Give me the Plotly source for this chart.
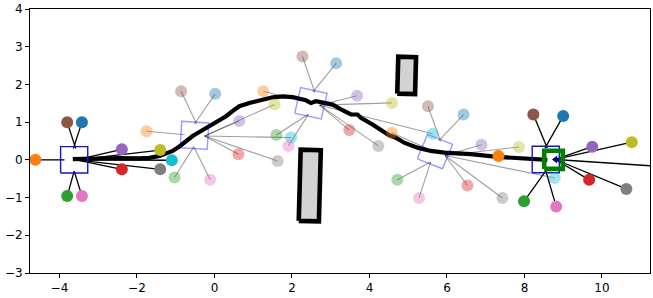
import math
import plotly.graph_objects as go

# ---------------- data ----------------
# robot poses (centre, heading in degrees); first and last drawn solid
pose_x = [-3.62, -0.515, 2.49, 5.69, 8.55]
pose_y = [0.0, 0.65, 1.50, 0.22, 0.01]
pose_deg = [0.0, -3.5, -12.5, -22.0, 0.0]
pose_solid = [True, False, False, False, True]

# landmark colours (tab10 order)
landmark_colors = ['#1f77b4', '#ff7f0e', '#2ca02c', '#d62728', '#9467bd',
                   '#8c564b', '#e377c2', '#7f7f7f', '#bcbd22', '#17becf']

# observed landmark positions per pose, in colour order
obs_x = [
    [-3.42, -4.62, -3.80, -2.39, -2.39, -3.80, -3.42, -1.40, -1.40, -1.10],
    [0.02, -1.75, -1.03, 0.62, 0.64, -0.86, -0.11, 1.63, 1.55, 1.98],
    [3.14, 1.26, 1.60, 3.48, 3.68, 2.27, 1.91, 4.23, 4.58, 5.63],
    [6.43, 4.58, 4.72, 6.53, 6.89, 5.51, 5.28, 7.43, 7.86, 8.78],
    [9.00, 7.33, 7.99, 9.67, 9.75, 8.23, 8.82, 10.63, 10.77, 11.60],
]
obs_y = [
    [1.00, 0.00, -0.96, -0.25, 0.28, 1.00, -0.96, -0.25, 0.26, -0.01],
    [1.75, 0.76, -0.47, 0.15, 1.03, 1.82, -0.53, -0.03, 1.47, 0.59],
    [2.56, 1.82, 0.66, 0.79, 1.70, 2.74, 0.37, 0.37, 1.51, 0.69],
    [1.20, 0.72, -0.53, -0.68, 0.40, 1.42, -1.01, -1.01, 0.34, -0.48],
    [1.16, 0.10, -1.10, -0.53, 0.35, 1.20, -1.24, -0.77, 0.47, -0.18],
]

# travelled path
path_x = [-3.655, -2.967, -2.451, -1.936, -1.678, -1.420, -1.240, -1.078, -0.905,
          -0.732, -0.562, -0.389, -0.217, -0.046, 0.126, 0.299, 0.461, 0.642,
          0.900, 1.158, 1.500, 1.758, 2.016, 2.361, 2.490, 2.619, 2.789, 3.047,
          3.305, 3.522, 3.692, 3.779, 4.078, 4.336, 4.509, 4.682, 4.896, 5.239,
          5.584, 5.927, 6.615, 7.301, 7.904, 8.332, 8.590]
path_y = [0.018, 0.045, 0.045, 0.039, 0.053, 0.105, 0.171, 0.237, 0.355,
          0.500, 0.632, 0.737, 0.842, 0.939, 1.053, 1.158, 1.289, 1.421,
          1.508, 1.571, 1.658, 1.684, 1.666, 1.579, 1.508, 1.553, 1.526, 1.466,
          1.316, 1.203, 1.203, 1.113, 0.939, 0.763, 0.650, 0.587, 0.455, 0.324,
          0.237, 0.192, 0.150, 0.079, 0.045, 0.000, 0.000]

# rectangular obstacles
obst_cx = [2.46, 4.96]
obst_cy = [-0.68, 2.24]
obst_w = [0.52, 0.46]
obst_h = [1.89, 0.98]
obst_deg = [-1.5, -1.5]

# goal
goal_x = [8.75]
goal_y = [0.0]

x_ticks = [-4, -2, 0, 2, 4, 6, 8, 10]
y_ticks = [-3, -2, -1, 0, 1, 2, 3, 4]

# ---------------- geometry helpers ----------------
BOX_HALF = 0.35
GOAL_HALF = 0.24
front_offset = [0.05, 0.26, 0.23, 0.28, 0.25]
# local anchor for each colour index; None = front anchor
anchor_local = [(-0.02, 0.3), (-0.25, 0.0), (0.0, -0.3), None, None,
                (0.04, 0.3), (0.0, -0.3), None, None, None]


def to_world(cx, cy, deg, lx, ly):
    th = math.radians(deg)
    c, s = math.cos(th), math.sin(th)
    return cx + c * lx - s * ly, cy + s * lx + c * ly


def rect(cx, cy, deg, hw, hh):
    xs, ys = [], []
    for lx, ly in [(-hw, -hh), (hw, -hh), (hw, hh), (-hw, hh), (-hw, -hh)]:
        X, Y = to_world(cx, cy, deg, lx, ly)
        xs.append(X)
        ys.append(Y)
    return xs, ys


fig = go.Figure()

# observation lines
for i in range(len(pose_x)):
    lx, ly = [], []
    for k in range(len(landmark_colors)):
        a = anchor_local[k] if anchor_local[k] is not None else (front_offset[i], 0.0)
        ax, ay = to_world(pose_x[i], pose_y[i], pose_deg[i], a[0], a[1])
        lx += [ax, obs_x[i][k], None]
        ly += [ay, obs_y[i][k], None]
    fig.add_trace(go.Scatter(
        x=lx, y=ly, mode='lines', hoverinfo='skip',
        line=dict(color='black' if pose_solid[i] else 'rgba(0,0,0,0.38)',
                  width=1.3 if pose_solid[i] else 1.1)))

# path
fig.add_trace(go.Scatter(x=path_x, y=path_y, mode='lines',
                         line=dict(color='black', width=4.2)))

# pose boxes
for i in range(len(pose_x)):
    bx, by = rect(pose_x[i], pose_y[i], pose_deg[i], BOX_HALF, BOX_HALF)
    fig.add_trace(go.Scatter(
        x=bx, y=by, mode='lines',
        line=dict(color='rgb(20,20,200)' if pose_solid[i] else 'rgba(0,0,255,0.4)',
                  width=1.4)))

# landmark dots (faded first, solid on top)
order = [1, 2, 3, 0, 4]
for i in order:
    fig.add_trace(go.Scatter(
        x=obs_x[i], y=obs_y[i], mode='markers',
        opacity=1.0 if pose_solid[i] else 0.4,
        marker=dict(size=12, color=landmark_colors, line=dict(width=0))))

# obstacles
for j in range(len(obst_cx)):
    ox, oy = rect(obst_cx[j], obst_cy[j], obst_deg[j], obst_w[j] / 2, obst_h[j] / 2)
    fig.add_trace(go.Scatter(x=ox, y=oy, mode='lines', fill='toself',
                             fillcolor='#d3d3d3',
                             line=dict(color='black', width=4.6)))

# goal square
gx, gy = rect(goal_x[0], goal_y[0], 0.0, GOAL_HALF, GOAL_HALF)
fig.add_trace(go.Scatter(x=gx, y=gy, mode='lines',
                         line=dict(color='green', width=4.6)))

# heading arrowhead of final pose
hx, hy = to_world(pose_x[-1], pose_y[-1], pose_deg[-1], front_offset[-1], 0.0)
fig.add_trace(go.Scatter(x=[hx], y=[hy], mode='markers',
                         marker=dict(symbol='triangle-left', size=7, color='navy')))

axis_common = dict(showgrid=False, zeroline=False, showline=True, mirror=True,
                   linecolor='black', linewidth=1, ticks='outside', ticklen=4,
                   tickwidth=1, tickcolor='black',
                   tickfont=dict(family='DejaVu Sans', size=12, color='black'))

fig.update_layout(
    width=653, height=298,
    margin=dict(l=30, r=2, t=7, b=25),
    paper_bgcolor='white', plot_bgcolor='white',
    showlegend=False,
    xaxis=dict(range=[-4.76, 11.24], tickvals=x_ticks,
               ticktext=[str(v).replace('-', '\u2212') for v in x_ticks], **axis_common),
    yaxis=dict(range=[-3, 4], tickvals=y_ticks,
               ticktext=[str(v).replace('-', '\u2212') for v in y_ticks], **axis_common),
)

fig.write_html("out.html", config={'displayModeBar': False},
               post_script="document.body.style.margin='0';document.body.style.padding='0';")
